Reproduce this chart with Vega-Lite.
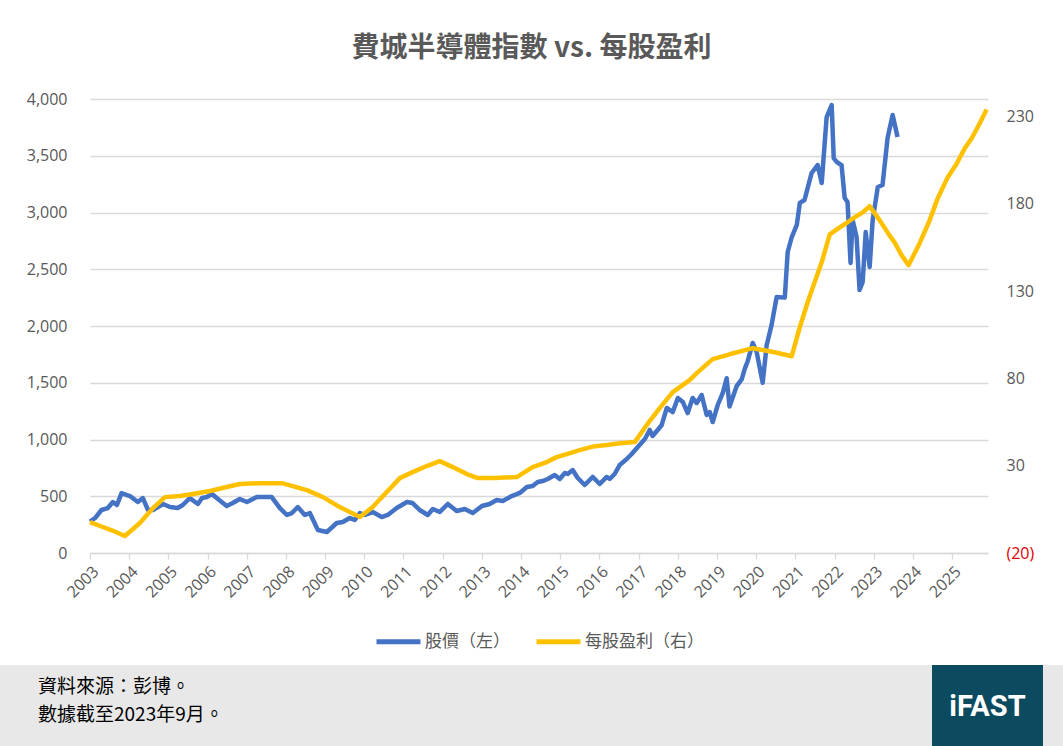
{
  "$schema": "https://vega.github.io/schema/vega-lite/v6.json",
  "description": "費城半導體指數 vs. 每股盈利",
  "padding": {"top": 35, "left": 0, "right": 0, "bottom": 0},
  "background": "white",
  "title": {
    "text": "費城半導體指數 vs. 每股盈利",
    "font": "Noto Sans CJK TC",
    "fontSize": 28,
    "fontWeight": "bold",
    "color": "#595959",
    "anchor": "middle",
    "offset": 28
  },
  "datasets": {
    "price": [
      {"date": "2003-01-01", "value": 276}, {"date": "2003-02-17", "value": 308}, {"date": "2003-04-18", "value": 379},
      {"date": "2003-06-16", "value": 396}, {"date": "2003-08-02", "value": 449}, {"date": "2003-09-09", "value": 423},
      {"date": "2003-10-22", "value": 528}, {"date": "2004-01-08", "value": 502}, {"date": "2004-03-22", "value": 449},
      {"date": "2004-05-08", "value": 484}, {"date": "2004-06-24", "value": 379}, {"date": "2004-08-10", "value": 379},
      {"date": "2004-11-12", "value": 432}, {"date": "2005-01-16", "value": 405}, {"date": "2005-03-28", "value": 396},
      {"date": "2005-05-15", "value": 423}, {"date": "2005-07-19", "value": 484}, {"date": "2005-10-03", "value": 432},
      {"date": "2005-11-10", "value": 484}, {"date": "2005-12-26", "value": 493}, {"date": "2006-02-11", "value": 520},
      {"date": "2006-03-27", "value": 484}, {"date": "2006-06-28", "value": 414}, {"date": "2006-08-24", "value": 440},
      {"date": "2006-10-28", "value": 476}, {"date": "2007-01-03", "value": 449}, {"date": "2007-04-05", "value": 493},
      {"date": "2007-05-28", "value": 493}, {"date": "2007-08-22", "value": 493}, {"date": "2007-11-06", "value": 396},
      {"date": "2008-01-10", "value": 335}, {"date": "2008-02-26", "value": 352}, {"date": "2008-04-21", "value": 405},
      {"date": "2008-06-25", "value": 335}, {"date": "2008-08-11", "value": 352}, {"date": "2008-10-25", "value": 203},
      {"date": "2009-01-17", "value": 185}, {"date": "2009-04-19", "value": 264}, {"date": "2009-06-14", "value": 273},
      {"date": "2009-08-18", "value": 308}, {"date": "2009-10-04", "value": 291}, {"date": "2009-11-20", "value": 352},
      {"date": "2010-01-06", "value": 335}, {"date": "2010-03-20", "value": 361}, {"date": "2010-06-12", "value": 317},
      {"date": "2010-08-07", "value": 335}, {"date": "2010-10-30", "value": 396}, {"date": "2011-02-02", "value": 449},
      {"date": "2011-03-27", "value": 440}, {"date": "2011-06-01", "value": 379}, {"date": "2011-08-15", "value": 335},
      {"date": "2011-10-01", "value": 388}, {"date": "2011-12-05", "value": 361}, {"date": "2012-02-18", "value": 432},
      {"date": "2012-05-11", "value": 370}, {"date": "2012-07-25", "value": 388}, {"date": "2012-10-08", "value": 352},
      {"date": "2013-01-01", "value": 414}, {"date": "2013-03-14", "value": 432}, {"date": "2013-05-19", "value": 467},
      {"date": "2013-07-14", "value": 458}, {"date": "2013-10-06", "value": 502}, {"date": "2013-12-20", "value": 529},
      {"date": "2014-02-24", "value": 581}, {"date": "2014-04-19", "value": 590}, {"date": "2014-06-05", "value": 625},
      {"date": "2014-07-21", "value": 634}, {"date": "2014-09-07", "value": 652}, {"date": "2014-11-11", "value": 687},
      {"date": "2014-12-27", "value": 652}, {"date": "2015-02-13", "value": 705}, {"date": "2015-03-11", "value": 696},
      {"date": "2015-04-27", "value": 731}, {"date": "2015-06-13", "value": 661}, {"date": "2015-08-17", "value": 599},
      {"date": "2015-10-30", "value": 670}, {"date": "2016-01-04", "value": 608}, {"date": "2016-03-09", "value": 670},
      {"date": "2016-04-06", "value": 652}, {"date": "2016-05-22", "value": 696}, {"date": "2016-07-08", "value": 775},
      {"date": "2016-09-12", "value": 828}, {"date": "2016-10-28", "value": 872}, {"date": "2016-12-24", "value": 934},
      {"date": "2017-02-28", "value": 1004}, {"date": "2017-04-14", "value": 1084}, {"date": "2017-05-11", "value": 1031},
      {"date": "2017-06-27", "value": 1084}, {"date": "2017-08-04", "value": 1128}, {"date": "2017-09-20", "value": 1278},
      {"date": "2017-11-15", "value": 1242}, {"date": "2018-01-01", "value": 1366}, {"date": "2018-02-17", "value": 1330},
      {"date": "2018-04-03", "value": 1233}, {"date": "2018-05-19", "value": 1366}, {"date": "2018-06-26", "value": 1322},
      {"date": "2018-08-11", "value": 1392}, {"date": "2018-09-27", "value": 1216}, {"date": "2018-10-25", "value": 1242},
      {"date": "2018-11-22", "value": 1154}, {"date": "2019-01-08", "value": 1304}, {"date": "2019-02-24", "value": 1410},
      {"date": "2019-04-01", "value": 1540}, {"date": "2019-04-28", "value": 1290}, {"date": "2019-07-03", "value": 1470},
      {"date": "2019-08-19", "value": 1530}, {"date": "2019-09-16", "value": 1620}, {"date": "2019-10-14", "value": 1690},
      {"date": "2019-11-30", "value": 1850}, {"date": "2020-01-06", "value": 1770}, {"date": "2020-03-02", "value": 1500},
      {"date": "2020-04-08", "value": 1830}, {"date": "2020-05-24", "value": 2010}, {"date": "2020-07-10", "value": 2255},
      {"date": "2020-09-24", "value": 2250}, {"date": "2020-10-21", "value": 2652}, {"date": "2020-11-28", "value": 2784},
      {"date": "2021-01-14", "value": 2890}, {"date": "2021-02-11", "value": 3084}, {"date": "2021-03-27", "value": 3110},
      {"date": "2021-04-15", "value": 3180}, {"date": "2021-06-01", "value": 3348}, {"date": "2021-07-27", "value": 3418},
      {"date": "2021-09-03", "value": 3260}, {"date": "2021-10-19", "value": 3841}, {"date": "2021-12-05", "value": 3947},
      {"date": "2021-12-24", "value": 3480}, {"date": "2022-01-21", "value": 3445}, {"date": "2022-03-07", "value": 3418},
      {"date": "2022-04-05", "value": 3128}, {"date": "2022-05-02", "value": 3092}, {"date": "2022-05-30", "value": 2555},
      {"date": "2022-06-18", "value": 2934}, {"date": "2022-07-25", "value": 2784}, {"date": "2022-08-22", "value": 2317},
      {"date": "2022-09-20", "value": 2388}, {"date": "2022-10-18", "value": 2828}, {"date": "2022-11-24", "value": 2520},
      {"date": "2022-12-22", "value": 2934}, {"date": "2023-02-08", "value": 3225}, {"date": "2023-03-24", "value": 3242},
      {"date": "2023-05-10", "value": 3656}, {"date": "2023-06-26", "value": 3859}, {"date": "2023-08-11", "value": 3665}
    ],
    "eps": [
      {"date": "2003-01-01", "eps": -2.3}, {"date": "2003-04-30", "eps": -5.1}, {"date": "2003-07-23", "eps": -7},
      {"date": "2003-11-22", "eps": -10.3}, {"date": "2004-04-10", "eps": -2.8}, {"date": "2004-08-10", "eps": 5.7},
      {"date": "2004-11-30", "eps": 12}, {"date": "2005-04-17", "eps": 12.6}, {"date": "2005-08-17", "eps": 13.8},
      {"date": "2006-01-23", "eps": 15.5}, {"date": "2006-06-28", "eps": 17.8}, {"date": "2006-10-28", "eps": 19.5},
      {"date": "2007-05-02", "eps": 20}, {"date": "2007-11-24", "eps": 20}, {"date": "2008-03-05", "eps": 18.3},
      {"date": "2008-07-14", "eps": 16}, {"date": "2008-12-11", "eps": 12}, {"date": "2009-05-17", "eps": 6.3},
      {"date": "2009-11-20", "eps": 0.6}, {"date": "2010-03-20", "eps": 6.3}, {"date": "2010-07-29", "eps": 14.9},
      {"date": "2010-11-28", "eps": 22.9}, {"date": "2011-03-27", "eps": 26.3}, {"date": "2011-08-06", "eps": 29.8},
      {"date": "2011-12-05", "eps": 32.6}, {"date": "2012-04-04", "eps": 29.2}, {"date": "2012-08-13", "eps": 25.2},
      {"date": "2012-11-24", "eps": 22.9}, {"date": "2013-04-30", "eps": 22.9}, {"date": "2013-11-22", "eps": 23.5},
      {"date": "2014-04-19", "eps": 29.2}, {"date": "2014-08-28", "eps": 32.1}, {"date": "2014-11-29", "eps": 34.9},
      {"date": "2015-03-02", "eps": 36.6}, {"date": "2015-07-01", "eps": 38.9}, {"date": "2015-11-18", "eps": 41.2},
      {"date": "2016-03-09", "eps": 41.8}, {"date": "2016-07-08", "eps": 42.9}, {"date": "2016-11-26", "eps": 43.5},
      {"date": "2017-03-16", "eps": 53.2}, {"date": "2017-07-16", "eps": 63}, {"date": "2017-11-15", "eps": 72.1},
      {"date": "2018-04-21", "eps": 79}, {"date": "2018-06-26", "eps": 83}, {"date": "2018-11-22", "eps": 91},
      {"date": "2019-04-28", "eps": 93.8}, {"date": "2019-11-30", "eps": 97.3}, {"date": "2020-06-22", "eps": 95},
      {"date": "2020-11-28", "eps": 92.7}, {"date": "2021-02-11", "eps": 109.3}, {"date": "2021-04-25", "eps": 123.6},
      {"date": "2021-06-29", "eps": 135}, {"date": "2021-09-03", "eps": 146.5}, {"date": "2021-11-17", "eps": 162.5},
      {"date": "2022-02-18", "eps": 166.5}, {"date": "2022-05-02", "eps": 169.4}, {"date": "2022-07-06", "eps": 172.2},
      {"date": "2022-09-20", "eps": 175.1}, {"date": "2022-11-24", "eps": 178.6}, {"date": "2023-02-26", "eps": 170.5},
      {"date": "2023-05-28", "eps": 161.9}, {"date": "2023-07-14", "eps": 157.9}, {"date": "2023-09-18", "eps": 150.5},
      {"date": "2023-11-22", "eps": 144.8}, {"date": "2024-03-03", "eps": 157.3}, {"date": "2024-06-05", "eps": 170.5},
      {"date": "2024-08-19", "eps": 183.1}, {"date": "2024-11-20", "eps": 195.1}, {"date": "2025-02-13", "eps": 203.1},
      {"date": "2025-04-27", "eps": 211.6}, {"date": "2025-07-01", "eps": 217.4}, {"date": "2025-09-14", "eps": 226},
      {"date": "2025-11-18", "eps": 234}
    ],
    "source": [
      {"line": "資料來源：彭博。"},
      {"line": "數據截至2023年9月。"}
    ],
    "logo": [
      {"brand": "iFAST"}
    ]
  },
  "vconcat": [
    {
      "bounds": "flush",
      "spacing": 0,
      "resolve": {"scale": {"color": "independent"}, "legend": {"color": "independent"}},
      "hconcat": [
        {
          "width": 90,
          "height": 454,
          "data": {"values": []},
          "mark": "text"
        },
        {
          "width": 898,
          "height": 454,
          "layer": [
            {
              "data": {"name": "price"},
              "mark": {"type": "line", "strokeWidth": 4.5, "strokeJoin": "round"},
              "encoding": {
                "x": {
                  "field": "date",
                  "type": "temporal",
                  "scale": {
                    "type": "utc",
                    "domain": [{"year": 2003, "month": 1, "date": 1, "utc": true}, {"year": 2025, "month": 12, "date": 1, "utc": true}],
                    "nice": false
                  },
                  "axis": {
                    "title": null,
                    "format": "%Y",
                    "tickCount": {"interval": "year", "step": 1},
                    "labelAngle": -45,
                    "labelOverlap": false,
                    "labelFlush": false,
                    "labelBound": false,
                    "labelPadding": 4,
                    "labelFontSize": 16,
                    "labelColor": "#595959",
                    "ticks": true,
                    "tickSize": 6,
                    "tickColor": "#d9d9d9",
                    "tickWidth": 1.3,
                    "domainColor": "#d9d9d9",
                    "domainWidth": 1.3,
                    "grid": false
                  }
                },
                "y": {
                  "field": "value",
                  "type": "quantitative",
                  "scale": {"domain": [0, 4000], "nice": false},
                  "axis": {
                    "title": null,
                    "values": [0, 500, 1000, 1500, 2000, 2500, 3000, 3500, 4000],
                    "format": ",d",
                    "grid": true,
                    "gridColor": "#d9d9d9",
                    "gridWidth": 1.3,
                    "domain": false,
                    "ticks": false,
                    "labelPadding": 23,
                    "labelFontSize": 16,
                    "labelColor": "#595959"
                  }
                },
                "color": {
                  "datum": "股價（左）",
                  "type": "nominal",
                  "scale": {"domain": ["股價（左）", "每股盈利（右）"], "range": ["#4472C4", "#FFC000"]},
                  "legend": {
                    "orient": "bottom",
                    "direction": "horizontal",
                    "title": null,
                    "symbolType": "stroke",
                    "symbolSize": 1936,
                    "symbolStrokeWidth": 5,
                    "labelFont": "Noto Sans CJK TC",
                    "labelFontSize": 17,
                    "labelColor": "#595959",
                    "labelOffset": 2,
                    "columnPadding": 16,
                    "offset": 16
                  }
                }
              }
            },
            {
              "data": {"name": "eps"},
              "mark": {"type": "line", "strokeWidth": 4.5, "strokeJoin": "round"},
              "encoding": {
                "x": {"field": "date", "type": "temporal"},
                "y": {
                  "field": "eps",
                  "type": "quantitative",
                  "scale": {"domain": [-20, 240], "nice": false, "zero": false},
                  "axis": {
                    "title": null,
                    "orient": "right",
                    "values": [-20, 30, 80, 130, 180, 230],
                    "labelExpr": "datum.value < 0 ? '(' + format(-datum.value, 'd') + ')' : format(datum.value, 'd')",
                    "labelColor": {"condition": {"test": "datum.value < 0", "value": "#e00000"}, "value": "#595959"},
                    "grid": false,
                    "domain": false,
                    "ticks": false,
                    "labelPadding": 18,
                    "minExtent": 75,
                    "labelFontSize": 16
                  }
                },
                "color": {
                  "datum": "每股盈利（右）",
                  "type": "nominal"
                }
              }
            }
          ],
          "resolve": {"scale": {"y": "independent"}}
        }
      ]
    },
    {
      "spacing": 0,
      "hconcat": [
        {
          "width": 932,
          "height": 83,
          "view": {"fill": "#e8e8e8", "stroke": null},
          "data": {"name": "source"},
          "mark": {"type": "text", "align": "left", "dx": -428, "font": "Noto Sans CJK TC", "fontSize": 19, "color": "#000000"},
          "encoding": {
            "y": {"field": "line", "type": "ordinal", "sort": null, "axis": null, "scale": {"padding": 1.1, "align": 0.4}},
            "text": {"field": "line"}
          }
        },
        {
          "width": 111,
          "height": 83,
          "view": {"fill": "#0b4a5f", "stroke": null},
          "data": {"name": "logo"},
          "mark": {"type": "text", "font": "Roboto", "fontSize": 29, "fontWeight": "bold", "color": "#ffffff"},
          "encoding": {"text": {"field": "brand"}}
        },
        {
          "width": 20,
          "height": 83,
          "view": {"fill": "#e8e8e8", "stroke": null},
          "data": {"values": []},
          "mark": "text"
        }
      ]
    }
  ],
  "spacing": 13,
  "resolve": {"scale": {"color": "independent"}, "legend": {"color": "independent"}},
  "config": {
    "font": "Open Sans",
    "view": {"stroke": null},
    "axis": {"labelFont": "Open Sans"},
    "legend": {"layout": {"bottom": {"anchor": "middle"}}}
  }
}
